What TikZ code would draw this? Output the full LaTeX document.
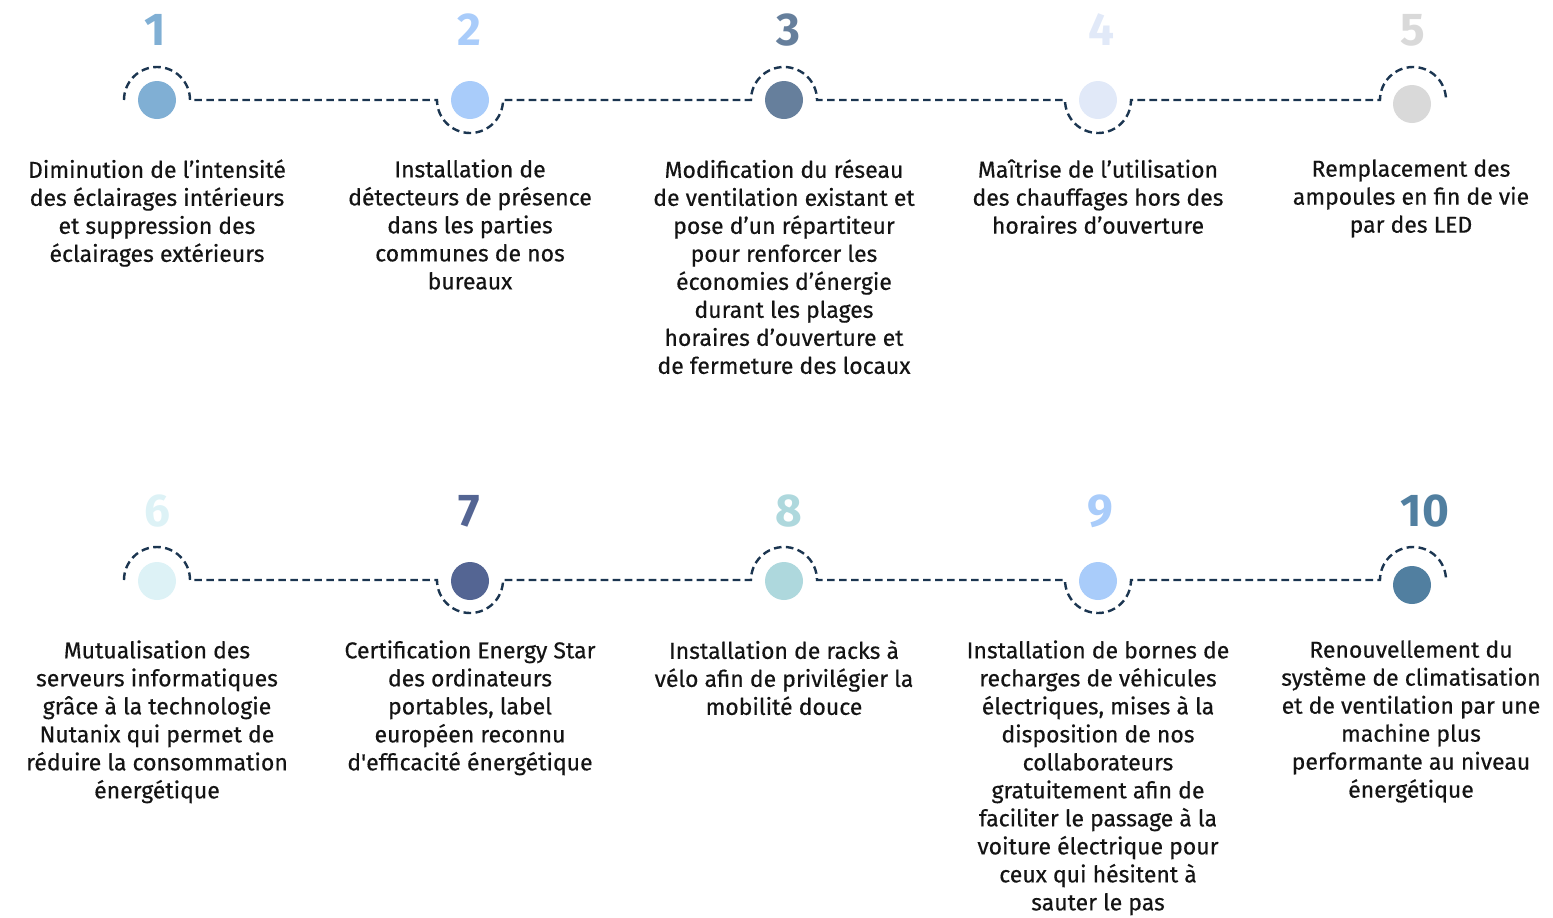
\documentclass[tikz,border=0pt]{standalone}
\usepackage{fontspec}
\setmainfont{Fira Sans}
\newfontfamily\descfont{Fira Sans}[FakeBold=0.4]
\usetikzlibrary{calc}

\definecolor{dashnavy}{HTML}{1B3550}
\definecolor{stepone}{HTML}{80AFD4}
\definecolor{steptwo}{HTML}{A9CCFA}
\definecolor{stepthree}{HTML}{667F9C}
\definecolor{stepfour}{HTML}{E1E9F8}
\definecolor{stepfive}{HTML}{D9D9D9}
\definecolor{stepsix}{HTML}{DDF2F6}
\definecolor{stepseven}{HTML}{546593}
\definecolor{stepeight}{HTML}{AED8DD}
\definecolor{stepnine}{HTML}{A9CCFA}
\definecolor{stepten}{HTML}{517FA0}

\tikzset{
  num/.style={inner sep=0pt, font=\fontsize{23}{23}\selectfont\bfseries},
  dot/.style={circle, inner sep=0pt, minimum size=19pt},
  desc/.style={align=center, anchor=north, inner sep=0pt, text=black!92,
    font=\descfont\fontsize{11.5}{14}\selectfont},
  timeline/.style={dashnavy, line width=1.2pt, dash pattern=on 3.8pt off 2.2pt}
}

\begin{document}
\begin{tikzpicture}[x=0.5pt,y=-0.5pt]
  \useasboundingbox (0,0) rectangle (1553,917);

  % first row
  \node[num, text=stepone]   (N1) at (155,30) {1};
  \node[num, text=steptwo]   (N2) at (469,30) {2};
  \node[num, text=stepthree] (N3) at (788,30) {3};
  \node[num, text=stepfour]  (N4) at (1101,30) {4};
  \node[num, text=stepfive]  (N5) at (1413,30) {5};

  \coordinate (P1) at (157,100);
  \coordinate (P2) at (470,100);
  \coordinate (P3) at (784,100);
  \coordinate (P4) at (1098,100);
  \coordinate (P5) at (1413,100);

  \node[dot, fill=stepone]   (D1) at (157,100) {};
  \node[dot, fill=steptwo]   (D2) at (470,100) {};
  \node[dot, fill=stepthree] (D3) at (784,100) {};
  \node[dot, fill=stepfour]  (D4) at (1098,100) {};
  \node[dot, fill=stepfive]  (D5) at (1412,104) {};

  \draw[timeline] ([xshift=-16.5pt]P1) arc[start angle=180, end angle=0, radius=16.5pt]
    -- ([xshift=-16.5pt]P2) arc[start angle=180, end angle=360, radius=16.5pt]
    -- ([xshift=-16.5pt]P3) arc[start angle=180, end angle=0, radius=16.5pt]
    -- ([xshift=-16.5pt]P4) arc[start angle=180, end angle=360, radius=16.5pt]
    -- ([xshift=-16.5pt]P5) arc[start angle=180, end angle=0, radius=16.5pt];

  \node[desc] (T1) at (157,159) {Diminution de l’intensité\\des éclairages intérieurs\\et suppression des\\éclairages extérieurs};
  \node[desc] (T2) at (470,159) {Installation de\\détecteurs de présence\\dans les parties\\communes de nos\\bureaux};
  \node[desc] (T3) at (784,159) {Modification du réseau\\de ventilation existant et\\pose d’un répartiteur\\pour renforcer les\\économies d’énergie\\durant les plages\\horaires d’ouverture et\\de fermeture des locaux};
  \node[desc] (T4) at (1098,159) {Maîtrise de l’utilisation\\des chauffages hors des\\horaires d’ouverture};
  \node[desc] (T5) at (1411,159) {Remplacement des\\ampoules en fin de vie\\par des LED};

  % second row
  \node[num, text=stepsix]   (N6) at (157,511) {6};
  \node[num, text=stepseven] (N7) at (469,511) {7};
  \node[num, text=stepeight] (N8) at (789,511) {8};
  \node[num, text=stepnine]  (N9) at (1100,511) {9};
  \node[num, text=stepten]   (N10) at (1425,511) {10};

  \coordinate (P6) at (157,580);
  \coordinate (P7) at (470,580);
  \coordinate (P8) at (784,580);
  \coordinate (P9) at (1098,580);
  \coordinate (P10) at (1413,580);

  \node[dot, fill=stepsix]   (D6) at (157,581) {};
  \node[dot, fill=stepseven] (D7) at (470,581) {};
  \node[dot, fill=stepeight] (D8) at (784,581) {};
  \node[dot, fill=stepnine]  (D9) at (1098,581) {};
  \node[dot, fill=stepten]   (D10) at (1412,585) {};

  \draw[timeline] ([xshift=-16.5pt]P6) arc[start angle=180, end angle=0, radius=16.5pt]
    -- ([xshift=-16.5pt]P7) arc[start angle=180, end angle=360, radius=16.5pt]
    -- ([xshift=-16.5pt]P8) arc[start angle=180, end angle=0, radius=16.5pt]
    -- ([xshift=-16.5pt]P9) arc[start angle=180, end angle=360, radius=16.5pt]
    -- ([xshift=-16.5pt]P10) arc[start angle=180, end angle=0, radius=16.5pt];

  \node[desc] (T6) at (157,640) {Mutualisation des\\serveurs informatiques\\grâce à la technologie\\Nutanix qui permet de\\réduire la consommation\\énergétique};
  \node[desc] (T7) at (470,640) {Certification Energy Star\\des ordinateurs\\portables, label\\européen reconnu\\d\textquotesingle efficacité énergétique};
  \node[desc] (T8) at (784,640) {Installation de racks à\\vélo afin de privilégier la\\mobilité douce};
  \node[desc] (T9) at (1098,640) {Installation de bornes de\\recharges de véhicules\\électriques, mises à la\\disposition de nos\\collaborateurs\\gratuitement afin de\\faciliter le passage à la\\voiture électrique pour\\ceux qui hésitent à\\sauter le pas};
  \node[desc] (T10) at (1411,640) {Renouvellement du\\système de climatisation\\et de ventilation par une\\machine plus\\performante au niveau\\énergétique};
\end{tikzpicture}
\end{document}
